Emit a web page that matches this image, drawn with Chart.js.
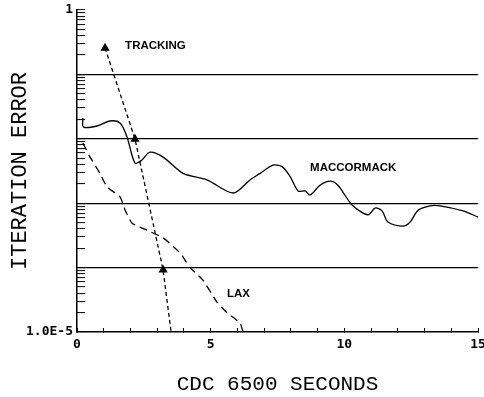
<!DOCTYPE html>
<html>
  <head>
    <meta charset="utf-8" />
    <title>iteration error</title>
    <script src="https://cdn.jsdelivr.net/npm/chart.js@4.4.0/dist/chart.umd.min.js"></script>
    <style>
      body { margin: 0; background: #fff; }
      canvas { display: block; }
    </style>
  </head>

  <body>
    <canvas id="Chart1" width="484" height="397"></canvas>

    <script>
      // MacCormack (solid)
      var macX = [0.22, 0.24, 0.75, 1.23, 1.61, 1.87, 2.17, 2.43, 2.73, 3.22, 3.97, 4.86, 5.84, 6.47, 6.85, 7.33, 7.67, 7.97, 8.27, 8.53, 8.72, 9.09, 9.47, 9.76, 10.29, 10.89, 11.15, 11.41, 11.63, 12.2, 12.46, 12.76, 13.21, 13.58, 14.44, 15.0];
      var macY = [0.021, 0.0152, 0.0158, 0.0189, 0.0176, 0.0107, 0.0042, 0.0047, 0.0062, 0.0052, 0.0029, 0.0023, 0.00144, 0.0023, 0.0029, 0.0039, 0.0037, 0.0026, 0.00155, 0.00155, 0.00134, 0.0019, 0.0022, 0.0019, 0.00094, 0.00066, 0.00084, 0.00076, 0.00051, 0.00044, 0.00051, 0.00078, 0.00091, 0.00091, 0.00076, 0.00061];

      // Lax (dashed)
      var laxX = [0.22, 0.49, 0.86, 1.12, 1.61, 1.8, 2.06, 2.62, 3.22, 3.85, 4.23, 4.71, 5.24, 5.61, 6.1, 6.21];
      var laxY = [0.0086, 0.0052, 0.0029, 0.0018, 0.00125, 0.00078, 0.00049, 0.00038, 0.00029, 0.00017, 0.0001, 0.000064, 0.000029, 0.00002, 0.0000138, 0.00001];

      // Tracking (short dashes, triangles)
      var trkX = [1.05, 2.17, 3.22, 3.52];
      var trkY = [0.257, 0.0099, 0.000092, 0.00001];

      // axis
      var xLabels = [0, 5, 10, 15];
      var yLabels = { 1: "1", 0.00001: "1.0E-5" };
      var decades = [-5, -4, -3, -2, -1, 0];

      // curve names, placed in data units
      var names = ["TRACKING", "MACCORMACK", "LAX"];
      var nameX = [1.8, 8.72, 5.61];
      var nameY = [0.276, 0.00358, 0.0000389];

      function pts(xs, ys) {
        return xs.map(function (x, i) { return { x: x, y: ys[i] }; });
      }

      function isDecade(v) {
        var l = Math.log10(v);
        return Math.abs(l - Math.round(l)) < 1e-9;
      }

      var curveNames = {
        id: "curveNames",
        afterDatasetsDraw: function (chart) {
          var c = chart.ctx;
          c.save();
          c.fillStyle = "#000";
          c.font = "bold 11.5px 'Liberation Sans'";
          c.textAlign = "left";
          c.textBaseline = "middle";
          for (var i = 0; i < names.length; i++) {
            c.fillText(names[i], chart.scales.x.getPixelForValue(nameX[i]), chart.scales.y.getPixelForValue(nameY[i]));
          }
          c.restore();
        },
      };

      var ctx1 = document.getElementById("Chart1");
      var Chart1 = new Chart(ctx1, {
        type: "line",
        data: {
          datasets: [
            {
              label: "MACCORMACK",
              data: pts(macX, macY),
              borderColor: "#000",
              borderWidth: 1.3,
              pointRadius: 0,
              tension: 0.3,
            },
            {
              label: "LAX",
              data: pts(laxX, laxY),
              borderColor: "#000",
              borderWidth: 1.3,
              borderDash: [8, 5],
              pointRadius: 0,
              tension: 0.15,
            },
            {
              label: "TRACKING",
              data: pts(trkX, trkY),
              borderColor: "#000",
              borderWidth: 1.3,
              borderDash: [4, 3],
              pointStyle: "triangle",
              pointRadius: [4, 4, 4, 0],
              pointBackgroundColor: "#000",
              pointBorderColor: "#000",
              tension: 0,
            },
          ],
        },
        options: {
          responsive: false,
          animation: false,
          layout: { padding: { left: 0, right: 6, top: 10, bottom: 0 } },
          plugins: { legend: { display: false }, tooltip: { enabled: false } },
          scales: {
            x: {
              type: "linear",
              min: 0,
              max: 15,
              border: { display: true, color: "#000", width: 1.5 },
              grid: {
                drawOnChartArea: false,
                drawTicks: true,
                tickLength: -4,
                tickColor: "#000",
                tickWidth: 1,
              },
              ticks: {
                stepSize: 1,
                autoSkip: false,
                maxRotation: 0,
                padding: 9,
                color: "#000",
                font: { family: "'DejaVu Sans Mono'", size: 13, weight: "bold" },
                callback: function (v) { return xLabels.indexOf(v) >= 0 ? String(v) : ""; },
              },
              title: {
                display: true,
                text: "CDC 6500 SECONDS",
                color: "#000",
                font: { family: "'Liberation Mono'", size: 21, lineHeight: 1 },
                padding: { top: 0, bottom: 2 },
              },
              afterFit: function (s) {
                s.height = 65;
                s.paddingLeft = 0;
                s.paddingRight = 0;
              },
            },
            y: {
              type: "logarithmic",
              min: 0.00001,
              max: 1,
              border: { display: true, color: "#000", width: 1.5 },
              grid: {
                drawOnChartArea: true,
                drawTicks: true,
                tickLength: -8,
                tickColor: "#000",
                tickWidth: 1,
                lineWidth: 1.2,
                color: function (c) {
                  var v = c.tick ? c.tick.value : 0;
                  if (!v || v === 1 || v === 0.00001) return "rgba(0,0,0,0)";
                  return isDecade(v) ? "#000" : "rgba(0,0,0,0)";
                },
              },
              afterBuildTicks: function (s) {
                var t = [];
                decades.forEach(function (e) {
                  for (var m = 1; m <= 9; m++) {
                    var v = Number(m + "e" + e);
                    if (v <= 1) t.push({ value: v });
                  }
                });
                s.ticks = t;
              },
              ticks: {
                autoSkip: false,
                padding: 12,
                color: "#000",
                font: { family: "'DejaVu Sans Mono'", size: 13, weight: "bold" },
                callback: function (v) { return yLabels[v] || ""; },
              },
              title: {
                display: true,
                text: "ITERATION ERROR",
                color: "#000",
                font: { family: "'Liberation Mono'", size: 22, lineHeight: 1.2 },
                padding: { top: 7, bottom: 0 },
              },
              afterFit: function (s) {
                s.width = 77;
                s.paddingTop = 0;
                s.paddingBottom = 0;
              },
            },
          },
        },
        plugins: [curveNames],
      });
    </script>
  </body>
</html>
